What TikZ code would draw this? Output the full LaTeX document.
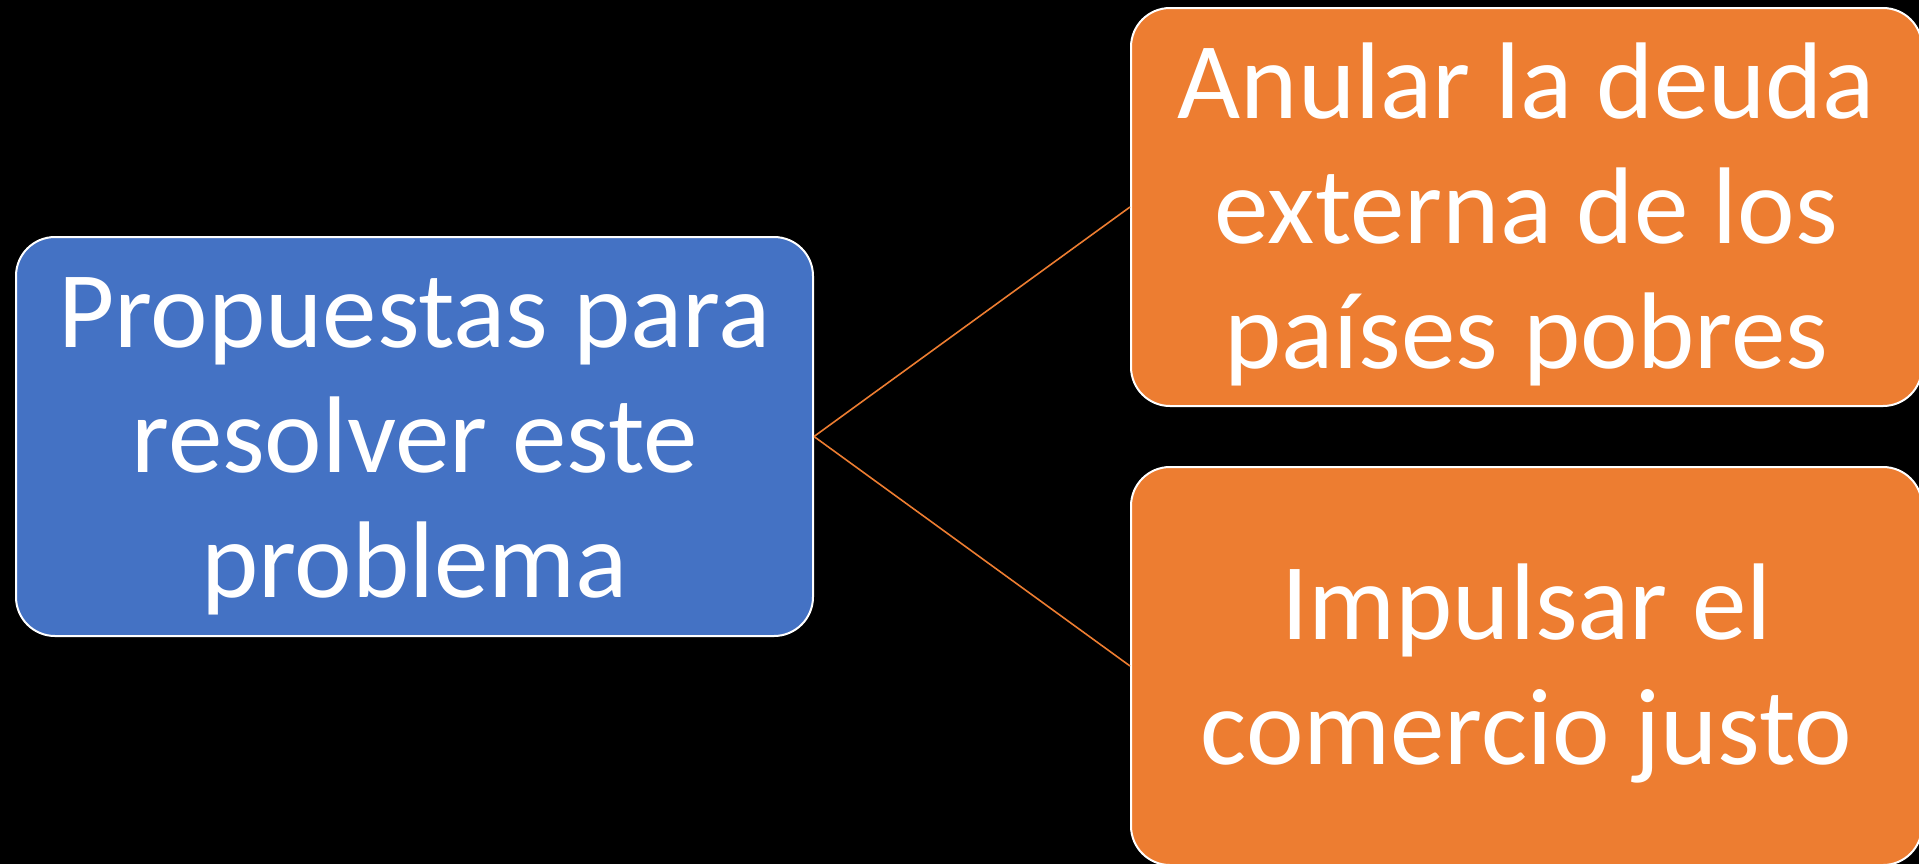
\documentclass[tikz,border=0pt]{standalone}
\usepackage{fontspec}
\setmainfont{Carlito}

\definecolor{azul}{HTML}{4472C4}
\definecolor{naranja}{HTML}{ED7D31}

% strut that lowers the text block a little
\newcommand{\alto}{\rule{0pt}{45pt}}

\tikzset{caja/.style = {rounded corners=19.5pt, draw=white, line width=1pt,
                        text=white, align=center, inner sep=0pt,
                        font=\fontsize{54.5}{62.5}\selectfont},
         propuesta/.style = {caja, fill=azul, minimum width=398.5pt, minimum height=199.5pt},
         accion/.style = {caja, fill=naranja, minimum width=395.5pt, minimum height=199pt},
         rama/.style = {draw=naranja, line width=0.8pt}
        }

\begin{document}
\begin{tikzpicture}[x=0.5pt, y=-0.5pt]
  \useasboundingbox (0, 0) rectangle (1919, 864);
  \fill[black] (0, 0) rectangle (1919, 864);
  \clip (0, 0) rectangle (1919, 864);
  \node[propuesta] (prop) at (414.5, 436.5) {\alto Propuestas para\\resolver este\\problema};
  \node[accion] (deuda) at (1526.5, 207) {\alto Anular la deuda\\externa de los\\países pobres};
  \node[accion] (comercio) at (1526.5, 666) {\alto Impulsar el\\comercio justo};
  \foreach \destino in {deuda, comercio}
      {\draw[rama] (prop.east) -- (\destino.west);};
\end{tikzpicture}
\end{document}
